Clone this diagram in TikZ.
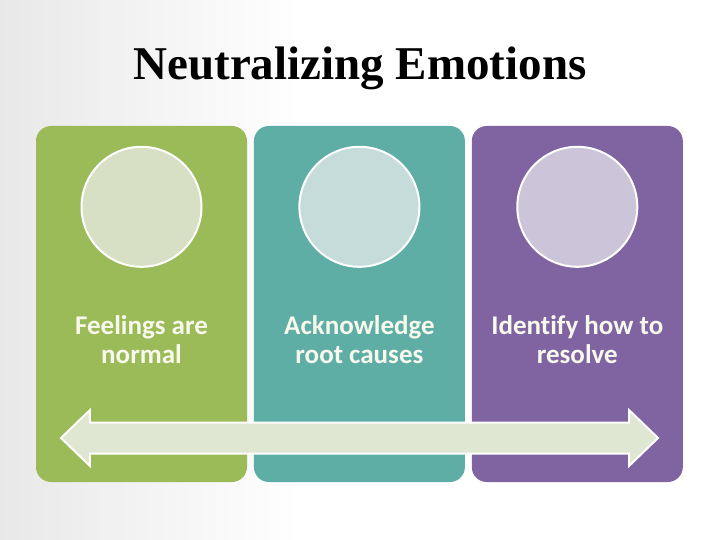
\documentclass[tikz,border=0pt]{standalone}
\usepackage{fontspec}
\setmainfont{Carlito}[Ligatures=NoCommon]
\newfontfamily\titlefont{Liberation Serif}
\usetikzlibrary{positioning,shapes.arrows}
\definecolor{pgreen}{HTML}{9BBB59}
\definecolor{pteal}{HTML}{5EAEA6}
\definecolor{ppurple}{HTML}{8064A2}
\definecolor{cgreen}{HTML}{D7E0C4}
\definecolor{cteal}{HTML}{C5DCDA}
\definecolor{cpurple}{HTML}{CCC5D9}
\definecolor{spanfill}{HTML}{DFE6D1}
\definecolor{cream}{HTML}{F8F8EC}

\begin{document}
\begin{tikzpicture}[
  x=1pt, y=-1pt,
  panel/.style={minimum width=211pt, minimum height=356pt, rounded corners=15pt, inner sep=0pt},
  disc/.style={circle, draw=white, line width=2pt, minimum size=120pt, inner sep=0pt},
  caption/.style={text=cream, font=\fontsize{27}{29}\selectfont\bfseries, align=center},
  headline/.style={font=\titlefont\fontsize{47}{50}\selectfont\bfseries},
  spanarrow/.style={double arrow, draw=white, line width=2pt, fill=spanfill, inner xsep=0pt, inner ysep=14.5pt,
    minimum height=597pt, double arrow head extend=12.5pt, double arrow tip angle=88}
]
\useasboundingbox (0,0) rectangle (720,540);
\fill[white] (0,0) rectangle (720,540);
\shade[left color=black!9, right color=white] (0,0) rectangle (300,540);

\node[headline] (title) at (360,68) {Neutralizing Emotions};

\node[panel, fill=pgreen] (feel) at (141.5,304) {};
\node[panel, fill=pteal, right=6.5pt of feel] (root) {};
\node[panel, fill=ppurple, right=6.5pt of root] (resolve) {};

\node[disc, fill=cgreen, below=20pt of feel.north] (feeldisc) {};
\node[disc, fill=cteal, below=20pt of root.north] (rootdisc) {};
\node[disc, fill=cpurple, below=20pt of resolve.north] (resolvedisc) {};

\node[caption] (feeltext) at (feel |- 0,340) {Feelings are\\normal};
\node[caption] (roottext) at (root |- 0,340) {Acknowledge\\root causes};
\node[caption] (resolvetext) at (resolve |- 0,340) {Identify how to\\resolve};

\node[spanarrow] (span) at (359.5,438) {};

\end{tikzpicture}
\end{document}
